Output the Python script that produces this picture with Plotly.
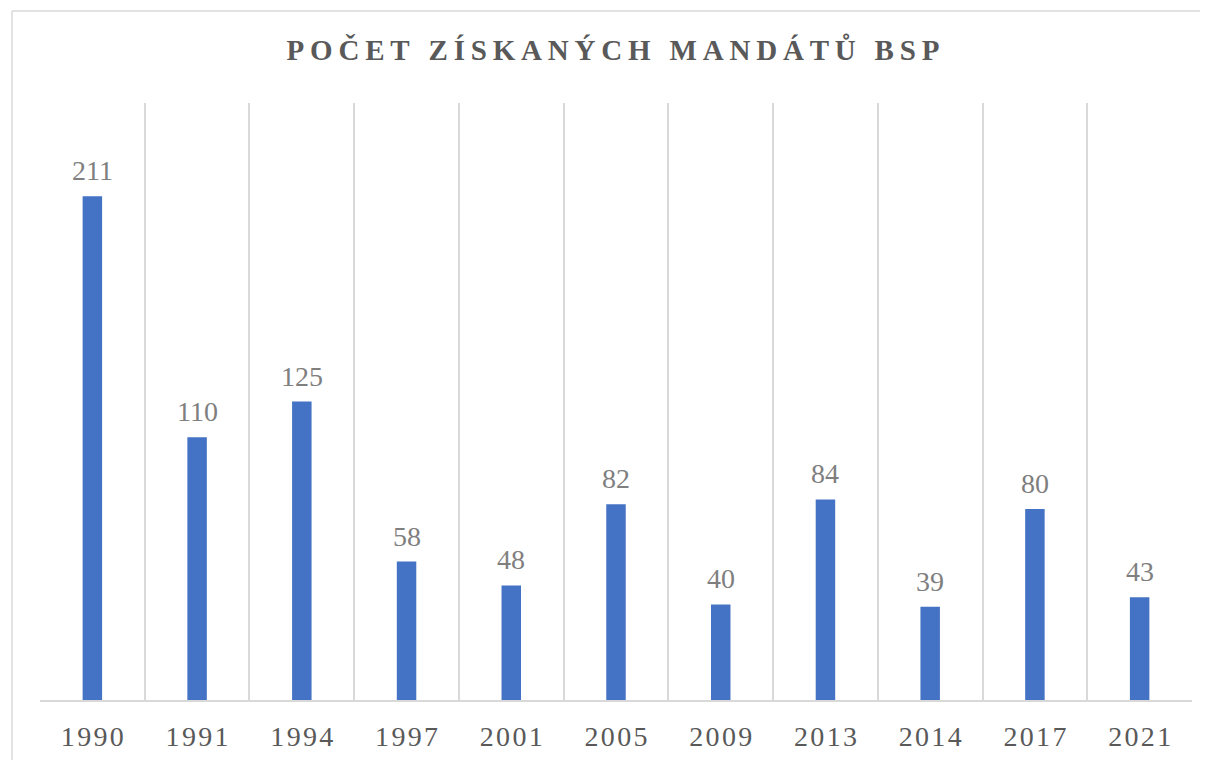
import plotly.graph_objects as go

# ── Data ───────────────────────────────────────────────
years = ["1990", "1991", "1994", "1997", "2001", "2005",
         "2009", "2013", "2014", "2017", "2021"]
seats = [211, 110, 125, 58, 48, 82, 40, 84, 39, 80, 43]
title_text = "POČET ZÍSKANÝCH MANDÁTŮ BSP"

# ── Theme ──────────────────────────────────────────────
_BAR = "#4472C4"
_GRID = "#d9d9d9"
_TICK = "#595959"
_LABEL = "#7f7f7f"
_FONT = "Liberation Serif, Times New Roman, serif"

HAIR = "\u200a"
THIN = "\u2009"

# page body has an 8px margin, so the figure is drawn that much smaller
W, H = 1200, 752
L, R, T, B = 32, 16, 95, 60
PW, PH = W - L - R, H - T - B


def spaced(s, sep):
    # fake letter-spacing, plotly has no letter-spacing option
    return sep.join(s)


fig = go.Figure(
    go.Bar(
        x=years,
        y=seats,
        marker=dict(color=_BAR, line=dict(width=0)),
        hoverinfo="x+y",
    )
)

# data labels sitting a bit above each bar (x given as category index)
for i, v in enumerate(seats):
    fig.add_annotation(
        x=i, y=v, text=str(v), showarrow=False,
        yanchor="bottom", yshift=8,
        font=dict(family=_FONT, size=28, color=_LABEL),
    )

# chart border (Excel chart area) - only left and top edges are in view
bx0 = (4 - L) / PW
by1 = 1 + (T - 3) / PH
fig.add_shape(type="line", xref="paper", yref="paper",
              x0=bx0, x1=bx0, y0=-0.5, y1=by1,
              line=dict(color=_GRID, width=1.5), layer="below")
fig.add_shape(type="line", xref="paper", yref="paper",
              x0=bx0, x1=1.3, y0=by1, y1=by1,
              line=dict(color=_GRID, width=1.5), layer="below")

fig.update_layout(
    width=W,
    height=H,
    paper_bgcolor="white",
    plot_bgcolor="white",
    margin=dict(l=L, r=R, t=T, b=B),
    bargap=0.814,
    showlegend=False,
    title=dict(
        text=spaced(title_text, THIN),
        x=605 / W, xanchor="center",
        y=1 - 42 / H, yanchor="middle", yref="container",
        font=dict(family=_FONT, size=29, color=_TICK, weight="bold"),
    ),
    xaxis=dict(
        type="category",
        automargin=False,
        tickson="boundaries",
        showgrid=True,
        gridcolor=_GRID,
        gridwidth=1.5,
        showline=True,
        linecolor=_GRID,
        linewidth=1.5,
        ticks="",
        tickvals=years,
        ticktext=[spaced(y, HAIR) for y in years],
        tickfont=dict(family=_FONT, size=28, color=_TICK),
        ticklabelstandoff=11,
        range=[-0.5, len(years) - 0.5],
    ),
    yaxis=dict(
        range=[0, 250],
        automargin=False,
        showgrid=False,
        showticklabels=False,
        zeroline=False,
        showline=False,
    ),
)

fig.write_html("out.html")
